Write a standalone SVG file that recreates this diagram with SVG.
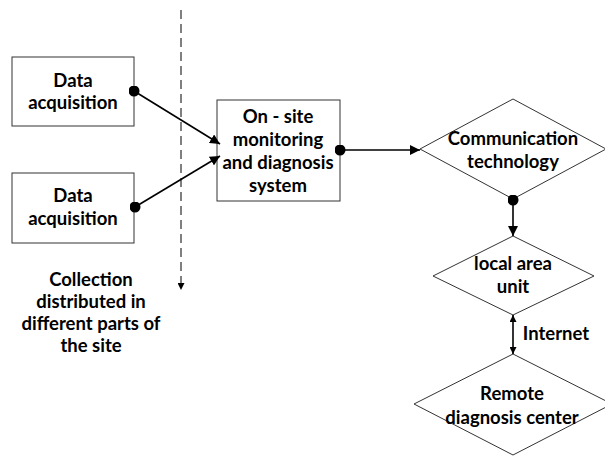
<svg xmlns="http://www.w3.org/2000/svg" width="605" height="457" viewBox="0 0 605 457">
<defs>
<marker id="arr" viewBox="0 0 10 10" refX="10" refY="5" markerWidth="10" markerHeight="10" markerUnits="userSpaceOnUse" orient="auto-start-reverse"><path d="M0,0 L10,5 L0,10 Z" fill="#000"/></marker>
<marker id="arrS" viewBox="0 0 10 10" refX="10" refY="5" markerWidth="7" markerHeight="7" markerUnits="userSpaceOnUse" orient="auto-start-reverse"><path d="M0,0 L10,5 L0,10 Z" fill="#000"/></marker>
<marker id="dot" viewBox="0 0 10 10" refX="5" refY="5" markerWidth="11" markerHeight="11" markerUnits="userSpaceOnUse"><circle cx="5" cy="5" r="5" fill="#000"/></marker>
</defs>
<style>
.box{fill:#fff;stroke:#333;stroke-width:1}
.t{font-family:Lato,"Liberation Sans",Arial,sans-serif;font-weight:bold;font-size:18.5px;fill:#000;text-anchor:middle}
.c{fill:none;stroke:#000;stroke-width:1.6}
</style>
<rect width="605" height="457" fill="#fff"/>
<g id="divider">
<line x1="181" y1="10" x2="181" y2="290" stroke="#000" stroke-width="1" stroke-dasharray="9,5" marker-end="url(#arrS)"/>
</g>
<g id="n1"><rect class="box" x="12" y="57" width="122" height="69"/><text class="t" x="73" y="87">Data</text><text class="t" x="73" y="109">acquisition</text></g>
<g id="n2"><rect class="box" x="12" y="173" width="122" height="70"/><text class="t" x="73" y="202">Data</text><text class="t" x="73" y="225">acquisition</text></g>
<g id="n3"><rect class="box" x="217" y="100" width="123" height="101"/><text class="t" x="278" y="123">On - site</text><text class="t" x="278" y="146">monitoring</text><text class="t" x="278" y="169">and diagnosis</text><text class="t" x="278" y="192">system</text></g>
<g id="n4"><polygon class="box" points="513,99 606,149 513,199 420,149"/><text class="t" x="513" y="145">Communication</text><text class="t" x="513" y="168">technology</text></g>
<g id="n5"><polygon class="box" points="513,236 594,276 513,315 433,276"/><text class="t" x="513" y="270">local area</text><text class="t" x="513" y="293">unit</text></g>
<g id="n6"><polygon class="box" points="513,354 612,404 513,455 414,404"/><text class="t" x="512" y="400">Remote</text><text class="t" x="512" y="424">diagnosis center</text></g>
<g id="note"><text class="t" x="91" y="286">Collection</text><text class="t" x="91" y="308">distributed in</text><text class="t" x="91" y="330">different parts of</text><text class="t" x="91" y="352">the site</text></g>
<g id="connectors">
<line class="c" x1="134" y1="91" x2="220" y2="144" marker-start="url(#dot)" marker-end="url(#arr)"/>
<line class="c" x1="135" y1="207" x2="220" y2="156" marker-start="url(#dot)" marker-end="url(#arr)"/>
<line class="c" x1="340" y1="150" x2="420" y2="150" marker-start="url(#dot)" marker-end="url(#arr)"/>
<line class="c" x1="513" y1="200" x2="513" y2="236" marker-start="url(#dot)" marker-end="url(#arr)"/>
<line class="c" x1="513" y1="315" x2="513" y2="354" marker-start="url(#arrS)" marker-end="url(#arrS)"/>
<text class="t" x="556" y="340">Internet</text>
</g>
</svg>
